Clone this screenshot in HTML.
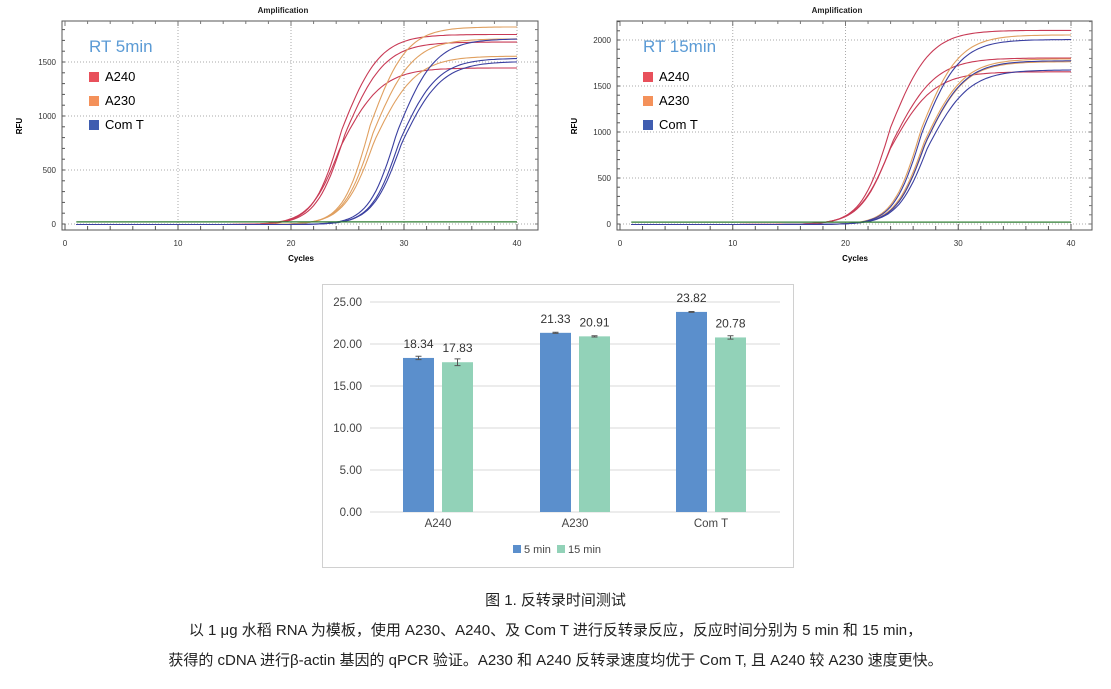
<!DOCTYPE html>
<html><head><meta charset="utf-8"><style>
body{margin:0;background:#fff;width:1111px;height:689px;overflow:hidden;position:relative;font-family:"Liberation Sans","Noto Sans CJK SC",sans-serif}
svg{position:absolute;left:0;top:0}
.cap{position:absolute;left:0;width:1111px;text-align:center;font-size:15px;color:#222;font-family:"Liberation Sans","Noto Sans CJK SC",sans-serif}
</style></head><body>
<svg id="s" width="1111" height="689" xmlns="http://www.w3.org/2000/svg" font-family="Liberation Sans, sans-serif">
<text x="283" y="13" font-size="8" font-weight="bold" text-anchor="middle" fill="#222">Amplification</text>
<rect x="62" y="21" width="476" height="209" fill="#fff" stroke="#555" stroke-width="1"/>
<g id="gL"></g>
<text x="22" y="126" font-size="8" font-weight="bold" transform="rotate(-90 22 126)" text-anchor="middle">RFU</text>
<text x="301" y="261" font-size="8" font-weight="bold" text-anchor="middle">Cycles</text>
<text x="89" y="52" font-size="17" fill="#5b9bd5">RT 5min</text>
<rect x="89" y="72" width="10" height="10" fill="#e8505b"/><text x="105" y="81" font-size="13">A240</text>
<rect x="89" y="96" width="10" height="10" fill="#f4915a"/><text x="105" y="105" font-size="13">A230</text>
<rect x="89" y="120" width="10" height="10" fill="#3f5db0"/><text x="105" y="129" font-size="13">Com T</text>
<text x="837" y="13" font-size="8" font-weight="bold" text-anchor="middle" fill="#222">Amplification</text>
<rect x="617" y="21" width="475" height="209" fill="#fff" stroke="#555" stroke-width="1"/>
<g id="gR"></g>
<text x="577" y="126" font-size="8" font-weight="bold" transform="rotate(-90 577 126)" text-anchor="middle">RFU</text>
<text x="855" y="261" font-size="8" font-weight="bold" text-anchor="middle">Cycles</text>
<text x="643" y="52" font-size="17" fill="#5b9bd5">RT 15min</text>
<rect x="643" y="72" width="10" height="10" fill="#e8505b"/><text x="659" y="81" font-size="13">A240</text>
<rect x="643" y="96" width="10" height="10" fill="#f4915a"/><text x="659" y="105" font-size="13">A230</text>
<rect x="643" y="120" width="10" height="10" fill="#3f5db0"/><text x="659" y="129" font-size="13">Com T</text>
<rect x="322.5" y="284.5" width="471" height="283" fill="#fff" stroke="#d0d0d0"/>
<g id="gB"></g>
</svg>
<div class="cap" style="top:589px">图 1. 反转录时间测试</div>
<div class="cap" style="top:619px">以 1 μg 水稻 RNA 为模板，使用 A230、A240、及 Com T 进行反转录反应，反应时间分别为 5 min 和 15 min，</div>
<div class="cap" style="top:649px">获得的 cDNA 进行β-actin 基因的 qPCR 验证。A230 和 A240 反转录速度均优于 Com T, 且 A240 较 A230 速度更快。</div>
<script>
var NS="http://www.w3.org/2000/svg";
function el(g,t,a,txt){var e=document.createElementNS(NS,t);for(var k in a)e.setAttribute(k,a[k]);if(txt!==undefined)e.textContent=txt;g.appendChild(e);return e;}
function chart(g,x0,x1,yb,ypx,ymax,yticks,fl,fr,curves){
  var sx=(x1-x0)/40;
  for(var c=10;c<=40;c+=10){var x=x0+c*sx;el(g,'line',{x1:x,x2:x,y1:21,y2:230,stroke:'#aaa','stroke-dasharray':'1,2'});}
  yticks.forEach(function(v){var y=yb-v*ypx;el(g,'line',{x1:fl,x2:fr,y1:y,y2:y,stroke:'#aaa','stroke-dasharray':'1,2'});
    el(g,'text',{x:fl-6,y:y+3,'font-size':8,'text-anchor':'end',fill:'#333'},String(v));});
  for(var c=0;c<=40;c+=2){var x=x0+c*sx;el(g,'line',{x1:x,x2:x,y1:230,y2:c%10?226:224,stroke:'#555'});el(g,'line',{x1:x,x2:x,y1:21,y2:c%10?24:26,stroke:'#777'});}
  for(var c=0;c<=40;c+=10)el(g,'text',{x:x0+c*sx,y:246,'font-size':8,'text-anchor':'middle',fill:'#333'},String(c));
  for(var v=0;v<=ymax;v+=100){var y=yb-v*ypx;el(g,'line',{x1:fl,x2:fl+3,y1:y,y2:y,stroke:'#555'});el(g,'line',{x1:fr,x2:fr-3,y1:y,y2:y,stroke:'#777'});}
  curves.forEach(function(cv){var d='';for(var c=1;c<=40;c+=0.25){
      var s=c<cv[1]?cv[3]:cv[3]*1.35;
      var v=cv[2]/(1+Math.exp(-(c-cv[1])/s))-5;d+=(d?'L':'M')+(x0+c*sx).toFixed(1)+','+(yb-v*ypx).toFixed(1);}
    el(g,'path',{d:d,fill:'none',stroke:cv[0],'stroke-width':1.1});});
  el(g,'line',{x1:x0+sx,x2:x0+40*sx,y1:yb-20*ypx,y2:yb-20*ypx,stroke:'#2e7d32','stroke-width':1.3});
}
var R='#c83a55',O='#e0a060',B='#3a3fa0';
chart(document.getElementById('gL'),65,517,224,0.108,1800,[0,500,1000,1500],62,538,[
 [R,24.5,1760,1.25],[R,24.8,1690,1.3],[R,24.4,1450,1.35],
 [O,27.0,1830,1.2],[O,27.3,1720,1.3],[O,27.4,1560,1.35],
 [B,29.4,1720,1.25],[B,29.6,1540,1.25],[B,29.8,1510,1.3]]);
chart(document.getElementById('gR'),620,1071,224,0.092,2200,[0,500,1000,1500,2000],617,1092,[
 [R,24.0,2110,1.3],[R,24.2,1810,1.4],[R,24.0,1660,1.4],
 [O,26.7,2060,1.25],[O,27.0,1800,1.3],[O,27.1,1770,1.3],
 [B,26.8,2010,1.25],[B,27.1,1780,1.3],[B,27.3,1680,1.35]]);
var g=document.getElementById('gB');var y0=512,py=8.4;
for(var v=0;v<=25;v+=5){var y=y0-v*py;el(g,'line',{x1:370,x2:780,y1:y,y2:y,stroke:'#d9d9d9'});
 el(g,'text',{x:362,y:y+4,'font-size':11.5,'text-anchor':'end',fill:'#444'},v.toFixed(2));}
var data=[['A240',403,18.34,17.83,0.2,0.4],['A230',540,21.33,20.91,0.07,0.07],['Com T',676,23.82,20.78,0.05,0.2]];
data.forEach(function(d){var x=d[1];
 [[x,d[2],'#5b8fcc',d[4]],[x+39,d[3],'#92d2b8',d[5]]].forEach(function(b){
  var h=b[1]*py;el(g,'rect',{x:b[0],y:y0-h,width:31,height:h,fill:b[2]});
  var cx=b[0]+15.5,e=b[3]*py,yt=y0-h;
  el(g,'path',{d:'M'+cx+','+(yt-e)+'V'+(yt+e)+'M'+(cx-3)+','+(yt-e)+'h6M'+(cx-3)+','+(yt+e)+'h6',stroke:'#555','stroke-width':1,fill:'none'});
  el(g,'text',{x:cx,y:yt-10,'font-size':12,'text-anchor':'middle',fill:'#333'},b[1].toFixed(2));});
 el(g,'text',{x:x+35,y:527,'font-size':11.5,'text-anchor':'middle',fill:'#444'},d[0]);});
el(g,'rect',{x:513,y:545,width:8,height:8,fill:'#5b8fcc'});el(g,'text',{x:524,y:553,'font-size':11,fill:'#444'},'5 min');
el(g,'rect',{x:557,y:545,width:8,height:8,fill:'#92d2b8'});el(g,'text',{x:568,y:553,'font-size':11,fill:'#444'},'15 min');
</script>
</body></html>
